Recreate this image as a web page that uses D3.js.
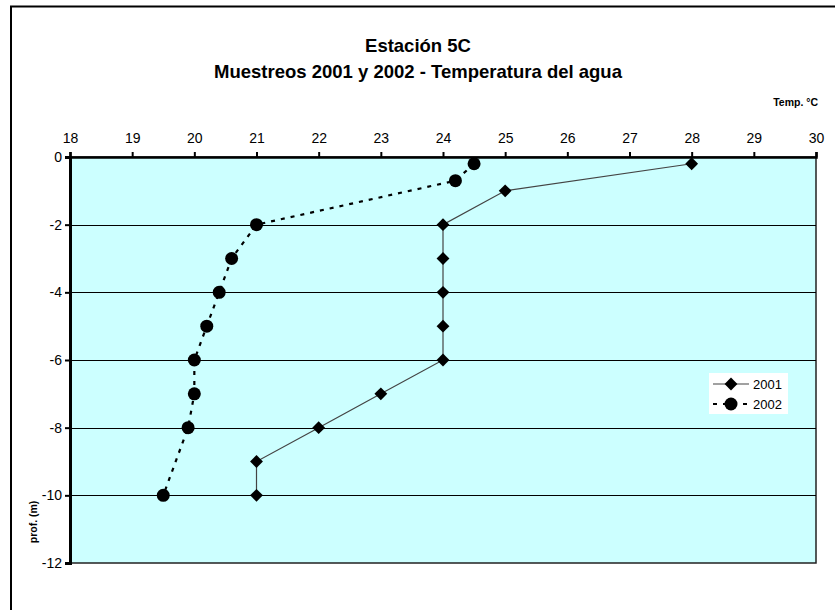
<html lang="es">
<head>
    <meta charset="UTF-8">
    <title>Estación 5C</title>
    <script src="https://d3js.org/d3.v7.min.js"></script>
    <style>
        body { margin: 0; background: #fff; }
        text { font-family: "Liberation Sans", Arial, sans-serif; fill: #000; }
    </style>
</head>
<body>
    <svg width="835" height="610"></svg>
    <script>
        // data
        var temp2001 = [28, 25, 24, 24, 24, 24, 24, 23, 22, 21, 21];
        var prof2001 = [-0.2, -1, -2, -3, -4, -5, -6, -7, -8, -9, -10];
        var temp2002 = [24.5, 24.2, 21, 20.6, 20.4, 20.2, 20, 20, 19.9, 19.5];
        var prof2002 = [-0.2, -0.7, -2, -3, -4, -5, -6, -7, -8, -10];
        var xTicks = [18, 19, 20, 21, 22, 23, 24, 25, 26, 27, 28, 29, 30];
        var yTicks = [0, -2, -4, -6, -8, -10, -12];

        var svg = d3.select("svg");

        // outer chart border (only top/left visible)
        svg.append("rect")
            .attr("x", 11).attr("y", 6.5)
            .attr("width", 840).attr("height", 620)
            .attr("fill", "none").attr("stroke", "#000").attr("stroke-width", 2);

        var pLeft = 70, pTop = 157, pRight = 816, pBottom = 563;
        var x = d3.scaleLinear().domain([18, 30]).range([pLeft, pRight]);
        var y = d3.scaleLinear().domain([0, -12]).range([pTop, pBottom]);

        // plot area
        svg.append("rect")
            .attr("x", pLeft).attr("y", pTop)
            .attr("width", pRight - pLeft).attr("height", pBottom - pTop)
            .attr("fill", "#ccffff").attr("stroke", "#222").attr("stroke-width", 1.5);

        // horizontal grid
        svg.append("g").selectAll("line")
            .data(yTicks.filter(function (d) { return d != 0 && d != -12; }))
            .enter().append("line")
            .attr("x1", pLeft).attr("x2", pRight)
            .attr("y1", function (d) { return Math.round(y(d)) + 0.5; })
            .attr("y2", function (d) { return Math.round(y(d)) + 0.5; })
            .attr("stroke", "#000").attr("stroke-width", 1);

        var plain = function (d) { return String(d); };

        // top axis
        var xAxis = svg.append("g")
            .attr("transform", "translate(0," + pTop + ")")
            .call(d3.axisTop(x).tickValues(xTicks).tickSize(5).tickPadding(9).tickFormat(plain));
        xAxis.select(".domain").attr("stroke-width", 2.5);
        xAxis.selectAll(".tick line").attr("stroke-width", 2);
        xAxis.selectAll("text").attr("font-size", 14).attr("font-family", "Liberation Sans, Arial, sans-serif");

        // left axis
        var yAxis = svg.append("g")
            .attr("transform", "translate(" + pLeft + ",0)")
            .call(d3.axisLeft(y).tickValues(yTicks).tickSize(5).tickPadding(3).tickFormat(plain));
        yAxis.select(".domain").attr("stroke-width", 3);
        yAxis.selectAll(".tick line").attr("stroke-width", 2);
        yAxis.selectAll("text").attr("font-size", 14).attr("font-family", "Liberation Sans, Arial, sans-serif");

        // titles
        svg.append("text").attr("x", 418).attr("y", 52)
            .attr("text-anchor", "middle").attr("font-size", 18.5).attr("font-weight", "bold")
            .text("Estación 5C");
        svg.append("text").attr("x", 418).attr("y", 78)
            .attr("text-anchor", "middle").attr("font-size", 18.5).attr("font-weight", "bold")
            .text("Muestreos 2001 y 2002 - Temperatura del agua");
        svg.append("text").attr("x", 818).attr("y", 106)
            .attr("text-anchor", "end").attr("font-size", 10.5).attr("font-weight", "bold")
            .text("Temp. °C");
        svg.append("text")
            .attr("transform", "translate(37,522) rotate(-90)")
            .attr("text-anchor", "middle").attr("font-size", 10.5).attr("font-weight", "bold")
            .text("prof. (m)");

        var d2001 = temp2001.map(function (t, i) { return [t, prof2001[i]]; });
        var d2002 = temp2002.map(function (t, i) { return [t, prof2002[i]]; });

        var line = d3.line()
            .x(function (d) { return x(d[0]); })
            .y(function (d) { return y(d[1]); });

        // 2001
        svg.append("path").datum(d2001)
            .attr("d", line).attr("fill", "none")
            .attr("stroke", "#444").attr("stroke-width", 1.2);
        var diamond = d3.symbol().type(d3.symbolDiamond2).size(105);
        svg.append("g").selectAll("path")
            .data(d2001).enter().append("path")
            .attr("d", diamond)
            .attr("transform", function (d) { return "translate(" + x(d[0]) + "," + y(d[1]) + ")"; })
            .attr("fill", "#000");

        // 2002
        svg.append("path").datum(d2002)
            .attr("d", line).attr("fill", "none")
            .attr("stroke", "#000").attr("stroke-width", 2.2)
            .attr("stroke-dasharray", "4,6");
        svg.append("g").selectAll("circle")
            .data(d2002).enter().append("circle")
            .attr("cx", function (d) { return x(d[0]); })
            .attr("cy", function (d) { return y(d[1]); })
            .attr("r", 6.5).attr("fill", "#000");

        // legend
        var lg = svg.append("g").attr("transform", "translate(709,373)");
        lg.append("rect").attr("width", 79).attr("height", 41).attr("fill", "#fff");
        lg.append("line").attr("x1", 4).attr("x2", 40).attr("y1", 11).attr("y2", 11)
            .attr("stroke", "#444").attr("stroke-width", 1.2);
        lg.append("path").attr("d", diamond)
            .attr("transform", "translate(22,11)").attr("fill", "#000");
        lg.append("text").attr("x", 44).attr("y", 16).attr("font-size", 13).text("2001");
        lg.append("line").attr("x1", 4).attr("x2", 40).attr("y1", 31).attr("y2", 31)
            .attr("stroke", "#000").attr("stroke-width", 2.2).attr("stroke-dasharray", "4,6");
        lg.append("circle").attr("cx", 22).attr("cy", 31).attr("r", 6.5).attr("fill", "#000");
        lg.append("text").attr("x", 44).attr("y", 36).attr("font-size", 13).text("2002");
    </script>
</body>
</html>
